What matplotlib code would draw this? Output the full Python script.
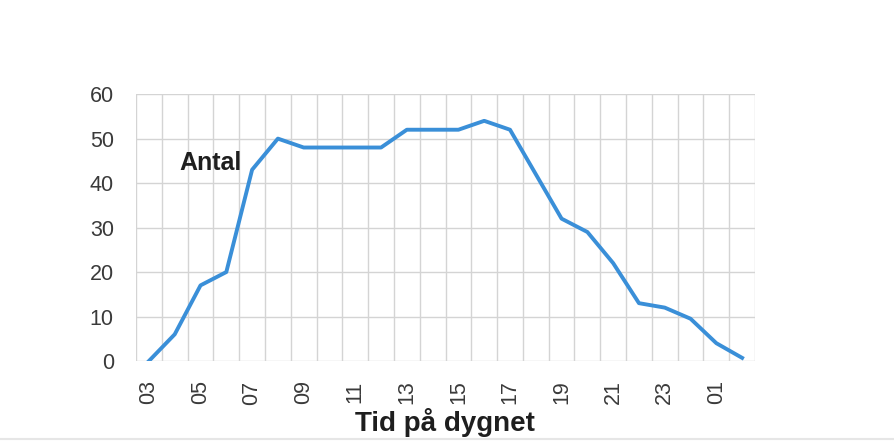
import matplotlib
matplotlib.use("Agg")
import matplotlib.pyplot as plt
from matplotlib.lines import Line2D

# timmar 03 .. 02 (nasta dygn)
hours = ['03', '04', '05', '06', '07', '08', '09', '10', '11', '12', '13', '14',
         '15', '16', '17', '18', '19', '20', '21', '22', '23', '00', '01', '02']
antal = [0, 6, 17, 20, 43, 50, 48, 48, 48, 48, 52, 52,
         52, 54, 52, 42, 32, 29, 22, 13, 12, 9.5, 4, 0.7]
yticks = [0, 10, 20, 30, 40, 50, 60]

plt.rcParams['font.family'] = ['Liberation Sans', 'DejaVu Sans']

fig = plt.figure(figsize=(8.95, 4.42), dpi=100)
ax = fig.add_axes([0.152, 0.1833, 0.6916, 0.6037])

xs = list(range(len(hours)))
ax.plot(xs, antal, color='#3a8fd8', linewidth=2.8, solid_joinstyle='round')

ax.set_xlim(-0.5, len(hours) - 0.5)
ax.set_ylim(0, 60)

# gridlines between categories (excel style)
ax.set_xticks([x - 0.5 for x in range(len(hours) + 1)], minor=True)
ax.set_xticks(xs[::2])
ax.set_xticklabels(hours[::2], rotation=90)
ax.set_yticks(yticks)

ax.grid(True, which='minor', axis='x', color='#d4d4d4', linewidth=1.0)
ax.grid(True, which='major', axis='y', color='#d4d4d4', linewidth=1.0)
ax.set_axisbelow(True)
for s in ax.spines.values():
    s.set_visible(False)

ax.tick_params(axis='both', which='both', length=0, labelsize=15.5, colors='#3a3a3a')
ax.tick_params(axis='y', pad=16)
ax.tick_params(axis='x', pad=14)

ax.text(0.121, 0.742, 'Antal', transform=ax.transAxes, ha='center', va='center',
        fontsize=18, fontweight='bold', color='#1e1e1e')
fig.text(0.497, 0.045, 'Tid på dygnet', ha='center', va='center',
         fontsize=20, fontweight='bold', color='#1e1e1e')

# faint border at the bottom of the image
fig.add_artist(Line2D([0, 1], [0.006, 0.006], transform=fig.transFigure,
                      color='#e6e6e6', linewidth=1.5))

fig.savefig('out.png', dpi=100, facecolor='white')
